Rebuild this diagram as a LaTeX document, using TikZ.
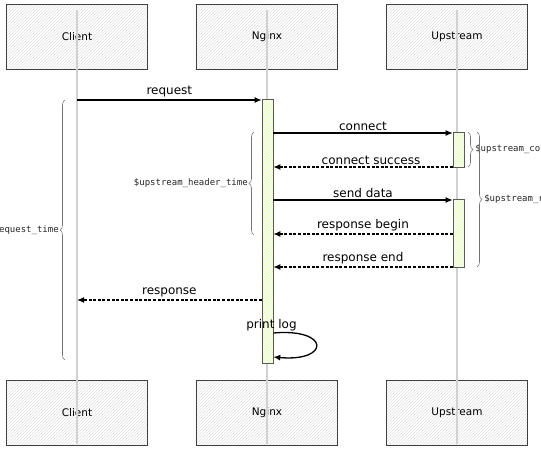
\documentclass[tikz,border=0pt]{standalone}
\usepackage{fontspec}
\setmainfont{DejaVu Sans}
\newfontfamily\bracefont{DejaVu Sans Mono}
\usepackage{tikz}
\usetikzlibrary{arrows.meta}
\usetikzlibrary{patterns}
\usetikzlibrary{decorations.pathreplacing}

\begin{document}
\begin{tikzpicture}[x=1pt,y=-1pt,
	actor/.style={draw=black!75,line width=0.9pt,minimum width=141pt,minimum height=65pt,pattern=north east lines,pattern color=black!12,font=\fontsize{10.5}{12}\selectfont},
	lifeline/.style={draw=black!18,line width=1.1pt},
	bar/.style={draw=black!65,line width=0.6pt,minimum width=11pt,inner sep=0pt,preaction={fill=yellow!6},pattern=north east lines,pattern color=yellow!50!green!30},
	msg/.style={line width=1.3pt,-{Latex[length=7pt,width=6pt]}},
	reply/.style={msg,dash pattern=on 3pt off 1.6pt},
	lbl/.style={above,font=\fontsize{12}{14}\selectfont,inner sep=2pt},
	span/.style={draw=black!55,line width=0.6pt,decorate,decoration={brace,amplitude=5pt}},
	spanlbl/.style={font=\bracefont\fontsize{9}{11}\selectfont,text=black!85,inner sep=1pt}]
	\useasboundingbox (0,0) rectangle (541,448);

	\node[actor](client) at (77,37) {Client};
	\node[actor](nginx) at (267,37) {Nginx};
	\node[actor](upstream) at (457,37) {Upstream};
	\node[actor](client2) at (77,413) {Client};
	\node[actor](nginx2) at (267,413) {Nginx};
	\node[actor](upstream2) at (457,413) {Upstream};

	\draw[lifeline] ([yshift=-6pt]client.north) -- ([yshift=2pt]client2.south);
	\draw[lifeline] ([yshift=-6pt]nginx.north) -- ([yshift=2pt]nginx2.south);
	\draw[lifeline] ([yshift=-6pt]upstream.north) -- ([yshift=2pt]upstream2.south);

	\node[bar,minimum height=264pt](ngbar) at (267.5,231) {};
	\node[bar,minimum height=35pt](upbar1) at (458.5,149.5) {};
	\node[bar,minimum height=68pt](upbar2) at (458.5,233) {};

	\coordinate (t1) at (0,100);
	\coordinate (t2) at (0,133);
	\coordinate (t3) at (0,167);
	\coordinate (t4) at (0,200);
	\coordinate (t5) at (0,234);
	\coordinate (t6) at (0,267);
	\coordinate (t7) at (0,300);
	\coordinate (t8) at (0,333);
	\coordinate (t9) at (0,357);

	\draw[msg] (client |- t1) -- (ngbar.west |- t1) node[lbl,midway]{request};
	\draw[msg] (ngbar.east |- t2) -- (upbar1.west |- t2) node[lbl,midway]{connect};
	\draw[reply] (upbar1.west |- t3) -- (ngbar.east |- t3) node[lbl,midway,xshift=8pt]{connect success};
	\draw[msg] (ngbar.east |- t4) -- (upbar2.west |- t4) node[lbl,midway]{send data};
	\draw[reply] (upbar2.west |- t5) -- (ngbar.east |- t5) node[lbl,midway]{response begin};
	\draw[reply] (upbar2.west |- t6) -- (ngbar.east |- t6) node[lbl,midway]{response end};
	\draw[reply] (ngbar.west |- t7) -- (client |- t7) node[lbl,midway]{response};
	\draw[msg] (ngbar.east |- t8) .. controls +(57,-5) and +(57,5) .. (ngbar.east |- t9);
	\node[lbl,anchor=center](printlog) at ([xshift=4pt,yshift=8pt]ngbar |- t8) {print log};

	% timings
	\draw[span] (65,360) -- (65,100) node[spanlbl,midway,left=5pt]{\$request\_time};
	\draw[span] (254,235) -- (254,132) node[spanlbl,midway,left=5pt]{\$upstream\_header\_time};
	\draw[span] (468,132) -- (468,167) node[spanlbl,midway,right=6pt]{\$upstream\_connect\_time};
	\draw[span] (477,132) -- (477,267) node[spanlbl,midway,right=6pt]{\$upstream\_response\_time};
\end{tikzpicture}
\end{document}
